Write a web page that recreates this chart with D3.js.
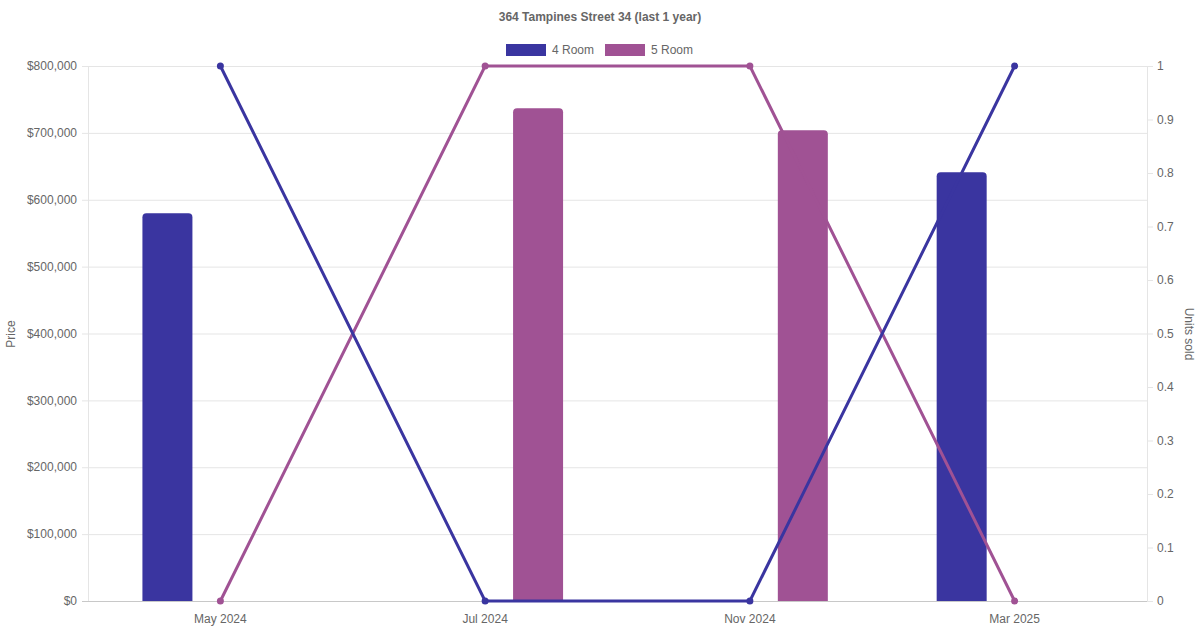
<!DOCTYPE html>
<html><head><meta charset="utf-8">
<script src="https://cdn.jsdelivr.net/npm/d3@7"></script>
<style>body{margin:0;background:#fff}svg{display:block;font-family:"Liberation Sans",Arial,sans-serif}</style>
</head><body><svg id="c" width="1200" height="630"></svg>
<script>
const title = "364 Tampines Street 34 (last 1 year)";
const categories = ["May 2024", "Jul 2024", "Nov 2024", "Mar 2025"];
const seriesNames = ["4 Room", "5 Room"];
const colors = ["#3a35a0", "#a05294"];
const price4Room = [580000, null, null, 641000];
const price5Room = [null, 737000, 704000, null];
const units4Room = [1, 0, 0, 1];
const units5Room = [0, 1, 1, 0];
const priceTicks = [0, 100000, 200000, 300000, 400000, 500000, 600000, 700000, 800000];
const unitTicks = [0, 0.1, 0.2, 0.3, 0.4, 0.5, 0.6, 0.7, 0.8, 0.9, 1];

const svg = d3.select("#c");
const L = 88, R = 1147, T = 66, B = 601;
const x = d3.scaleBand().domain(categories).range([L, R]);
const yP = d3.scaleLinear().domain([0, 800000]).range([B, T]);
const yU = d3.scaleLinear().domain([0, 1]).range([B, T]);
const txt = "#666";

// grid
svg.append("g").selectAll("line").data(priceTicks).join("line")
  .attr("x1", L - 6).attr("x2", R).attr("y1", d => yP(d) + 0.5).attr("y2", d => yP(d) + 0.5)
  .attr("stroke", d => d === 0 ? "#c8c8c8" : "#e5e5e5");
svg.append("line").attr("x1", L + 0.5).attr("x2", L + 0.5).attr("y1", T).attr("y2", B).attr("stroke", "#e5e5e5");
svg.append("line").attr("x1", R + 0.5).attr("x2", R + 0.5).attr("y1", T).attr("y2", B).attr("stroke", "#e5e5e5");
svg.append("g").selectAll("line").data(unitTicks).join("line")
  .attr("x1", R).attr("x2", R + 6).attr("y1", d => yU(d) + 0.5).attr("y2", d => yU(d) + 0.5).attr("stroke", "#e5e5e5");

// tick labels
const fmt = d => "$" + d3.format(",")(d);
svg.append("g").selectAll("text").data(priceTicks).join("text")
  .attr("x", 77).attr("y", d => yP(d)).attr("dy", "0.35em").attr("text-anchor", "end")
  .attr("font-size", 12).attr("fill", txt).text(fmt);
svg.append("g").selectAll("text").data(unitTicks).join("text")
  .attr("x", 1157).attr("y", d => yU(d)).attr("dy", "0.35em")
  .attr("font-size", 12).attr("fill", txt).text(d => d3.format("~g")(d));
svg.append("g").selectAll("text").data(categories).join("text")
  .attr("x", d => x(d) + x.bandwidth() / 2).attr("y", 619).attr("dy", "0.35em").attr("text-anchor", "middle")
  .attr("font-size", 12).attr("fill", txt).text(d => d);

// axis titles
svg.append("text").attr("transform", "translate(11,334) rotate(-90)").attr("text-anchor", "middle")
  .attr("dy", "0.35em").attr("font-size", 12).attr("fill", txt).text("Price");
svg.append("text").attr("transform", "translate(1189,334) rotate(90)").attr("text-anchor", "middle")
  .attr("dy", "0.35em").attr("font-size", 12).attr("fill", txt).text("Units sold");

// title
svg.append("text").attr("x", 600).attr("y", 17).attr("dy", "0.35em").attr("text-anchor", "middle")
  .attr("font-size", 12).attr("font-weight", "bold").attr("fill", txt).text(title);

// legend
const leg = [{n: seriesNames[0], c: colors[0], x: 506}, {n: seriesNames[1], c: colors[1], x: 605}];
leg.forEach(l => {
  svg.append("rect").attr("x", l.x).attr("y", 44).attr("width", 40).attr("height", 12).attr("fill", l.c);
  svg.append("text").attr("x", l.x + 46).attr("y", 50).attr("dy", "0.35em").attr("font-size", 12).attr("fill", txt).text(l.n);
});

// bars
const priceSeries = [price4Room, price5Room];
const slot = x.bandwidth() * 0.8 / 2;
const bw = 50, rad = 4;
priceSeries.forEach((s, k) => {
  s.forEach((v, i) => {
    if (v == null) return;
    const cx = x(categories[i]) + x.bandwidth() / 2 + (k === 0 ? -slot / 2 : slot / 2);
    const x0 = cx - bw / 2, x1 = cx + bw / 2, y0 = yP(v), y1 = yP(0);
    const p = d3.path();
    p.moveTo(x0, y1); p.lineTo(x0, y0 + rad); p.quadraticCurveTo(x0, y0, x0 + rad, y0);
    p.lineTo(x1 - rad, y0); p.quadraticCurveTo(x1, y0, x1, y0 + rad); p.lineTo(x1, y1); p.closePath();
    svg.append("path").attr("d", p.toString()).attr("fill", colors[k]);
  });
});

// lines (on top of bars; 4 Room drawn last)
const unitSeries = [units4Room, units5Room];
const line = d3.line().x((d, i) => x(categories[i]) + x.bandwidth() / 2).y(d => yU(d));
[1, 0].forEach(k => {
  const s = unitSeries[k];
  svg.append("path").attr("d", line(s)).attr("fill", "none").attr("stroke", colors[k]).attr("stroke-width", 3);
  svg.append("g").selectAll("circle").data(s).join("circle")
    .attr("cx", (d, i) => x(categories[i]) + x.bandwidth() / 2).attr("cy", d => yU(d)).attr("r", 3.5).attr("fill", colors[k]);
});
</script></body></html>
